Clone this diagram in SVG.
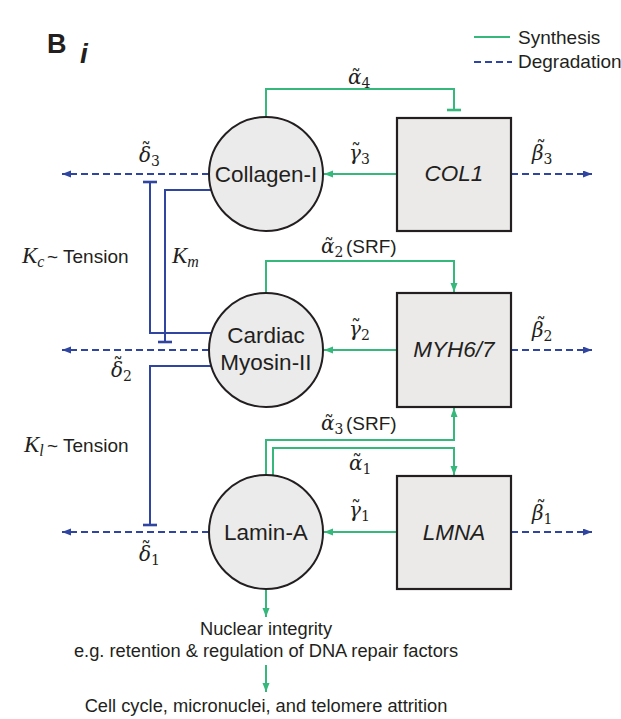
<svg xmlns="http://www.w3.org/2000/svg" width="621" height="719" viewBox="0 0 621 719">
<style>
.node circle{fill:#ebebeb;stroke:#231f20;stroke-width:2}
.node rect{fill:#ebeae9;stroke:#231f20;stroke-width:2.2}
.lbl{font-family:"Liberation Sans",Arial,sans-serif;font-size:22.5px;fill:#231f20;text-anchor:middle}
.gene{font-style:italic}
.syn{stroke:#36b77c;stroke-width:2;fill:none}
.deg{stroke:#2f45a0;stroke-width:2;stroke-dasharray:7 4;fill:none}
.inh{stroke:#2f45a0;stroke-width:2;fill:none}
.bar{stroke-width:2.6}
.math{font-family:"DejaVu Serif",serif;font-style:italic;font-size:20px;fill:#231f20}
.tl{font-style:normal}
.sub{font-style:normal;font-size:14px}
.kk{font-family:"Liberation Serif",serif;font-style:italic;font-size:23px;fill:#231f20}
.isub{font-size:16px}
.txt{font-family:"Liberation Sans",Arial,sans-serif;font-size:19px;fill:#231f20}
.note{font-family:"Liberation Sans",Arial,sans-serif;font-size:18.3px;fill:#231f20;text-anchor:middle}
</style>
<defs>
<marker id="ag" markerUnits="userSpaceOnUse" markerWidth="10" markerHeight="8" refX="9" refY="3.5" orient="auto"><path d="M0,0 L9,3.5 L0,7 z" fill="#36b77c"/></marker>
<marker id="ab" markerUnits="userSpaceOnUse" markerWidth="10" markerHeight="8" refX="9" refY="3.5" orient="auto"><path d="M0,0 L9,3.5 L0,7 z" fill="#2f45a0"/></marker>
</defs>
<rect width="621" height="719" fill="#ffffff"/>

<g id="panel-label">
<text x="47" y="53" font-family="Liberation Sans,Arial,sans-serif" font-weight="bold" font-size="27" fill="#231f20">B</text>
<text x="80" y="63" font-family="Liberation Sans,Arial,sans-serif" font-weight="bold" font-style="italic" font-size="28" fill="#231f20">i</text>
</g>

<g id="legend">
<path class="syn" d="M474,37 H510"/>
<path class="deg" d="M474,62 H512"/>
<text class="txt" x="518" y="44" font-size="19.5">Synthesis</text>
<text class="txt" x="518" y="68" font-size="19.5">Degradation</text>
</g>

<g id="connectors">
<path class="syn" d="M266,117 V89 H454 V110"/>
<path class="syn bar" d="M447,110 H461"/>
<path class="syn" d="M397,174 H324" marker-end="url(#ag)"/>
<path class="deg" d="M511,174 H592" marker-end="url(#ab)"/>
<path class="deg" d="M209,174 H62" marker-end="url(#ab)"/>
<path class="inh" d="M211,333 H150 V182"/>
<path class="inh bar" d="M143,182 H157"/>
<path class="inh" d="M211,190 H165 V342"/>
<path class="inh bar" d="M158,342 H172"/>
<path class="inh" d="M211,366 H150 V525"/>
<path class="inh bar" d="M143,525 H157"/>
<path class="deg" d="M209,350 H62" marker-end="url(#ab)"/>
<path class="syn" d="M266,293 V261 H454 V292" marker-end="url(#ag)"/>
<path class="syn" d="M397,350 H324" marker-end="url(#ag)"/>
<path class="deg" d="M511,350 H592" marker-end="url(#ab)"/>
<path class="syn" d="M266,475 V440 H454 V408" marker-end="url(#ag)"/>
<path class="syn" d="M273,475 V448 H454 V475" marker-end="url(#ag)"/>
<path class="syn" d="M397,532 H324" marker-end="url(#ag)"/>
<path class="deg" d="M511,532 H592" marker-end="url(#ab)"/>
<path class="deg" d="M209,532 H62" marker-end="url(#ab)"/>
<path class="syn" d="M266,589 V617" marker-end="url(#ag)"/>
<path class="syn" d="M266,665 V692" marker-end="url(#ag)"/>
</g>

<g id="collagen" class="node">
<circle cx="266" cy="174" r="57"/>
<text class="lbl" x="266" y="182">Collagen-I</text>
</g>
<g id="myosin" class="node">
<circle cx="266" cy="350" r="57"/>
<text class="lbl" x="266" y="343">Cardiac</text>
<text class="lbl" x="266" y="370">Myosin-II</text>
</g>
<g id="lamin" class="node">
<circle cx="266" cy="532" r="57"/>
<text class="lbl" x="266" y="540">Lamin-A</text>
</g>
<g id="col1" class="node">
<rect x="397" y="118" width="114" height="113"/>
<text class="lbl gene" x="454" y="181">COL1</text>
</g>
<g id="myh" class="node">
<rect x="397" y="293" width="114" height="114"/>
<text class="lbl gene" x="454" y="357">MYH6/7</text>
</g>
<g id="lmna" class="node">
<rect x="397" y="476" width="114" height="113"/>
<text class="lbl gene" x="454" y="540">LMNA</text>
</g>

<g id="labels">
<text class="math" x="348" y="84">α<tspan class="sub" dy="4">4</tspan><tspan class="tl" x="351" y="84">˜</tspan></text>
<text class="math" x="139" y="162">δ<tspan class="sub" dy="4">3</tspan><tspan class="tl" x="141" y="157">˜</tspan></text>
<text class="math" x="349" y="160">γ<tspan class="sub" dy="4">3</tspan><tspan class="tl" x="351" y="158">˜</tspan></text>
<text class="math" x="532" y="160">β<tspan class="sub" dy="4">3</tspan><tspan class="tl" x="536" y="155">˜</tspan></text>
<text class="math" x="321" y="253">α<tspan class="sub" dy="4">2</tspan><tspan class="tl" x="324" y="253">˜</tspan></text>
<text class="txt" x="346" y="253">(SRF)</text>
<text class="math" x="349" y="336">γ<tspan class="sub" dy="4">2</tspan><tspan class="tl" x="351" y="334">˜</tspan></text>
<text class="math" x="532" y="337">β<tspan class="sub" dy="4">2</tspan><tspan class="tl" x="536" y="332">˜</tspan></text>
<text class="math" x="111" y="377">δ<tspan class="sub" dy="4">2</tspan><tspan class="tl" x="113" y="372">˜</tspan></text>
<text class="math" x="321" y="430">α<tspan class="sub" dy="4">3</tspan><tspan class="tl" x="324" y="430">˜</tspan></text>
<text class="txt" x="346" y="430">(SRF)</text>
<text class="math" x="349" y="470">α<tspan class="sub" dy="4">1</tspan><tspan class="tl" x="352" y="469">˜</tspan></text>
<text class="math" x="349" y="517">γ<tspan class="sub" dy="4">1</tspan><tspan class="tl" x="351" y="515">˜</tspan></text>
<text class="math" x="532" y="520">β<tspan class="sub" dy="4">1</tspan><tspan class="tl" x="536" y="515">˜</tspan></text>
<text class="math" x="139" y="561">δ<tspan class="sub" dy="4">1</tspan><tspan class="tl" x="141" y="556">˜</tspan></text>
<text class="kk" x="22" y="263">K<tspan class="isub" dy="4">c</tspan></text>
<text class="txt" x="47" y="263">~ Tension</text>
<text class="kk" x="172" y="263">K<tspan class="isub" dy="4">m</tspan></text>
<text class="kk" x="24" y="452">K<tspan class="isub" dy="4">l</tspan></text>
<text class="txt" x="47" y="452">~ Tension</text>
</g>

<g id="outcomes">
<text class="note" x="266" y="635">Nuclear integrity</text>
<text class="note" x="266" y="657">e.g. retention &amp; regulation of DNA repair factors</text>
<text class="note" x="266" y="712">Cell cycle, micronuclei, and telomere attrition</text>
</g>
</svg>
